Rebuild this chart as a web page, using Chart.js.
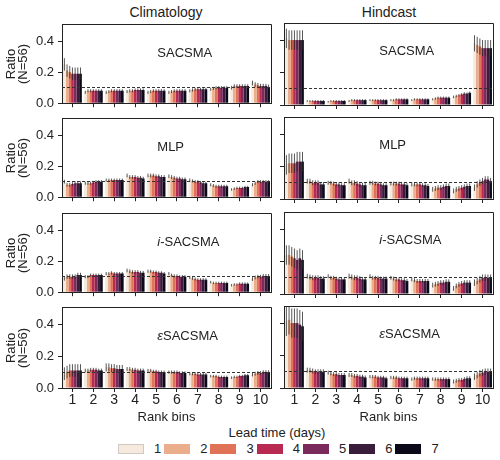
<!DOCTYPE html>
<html>
<head>
<meta charset="utf-8">
<script src="https://cdn.jsdelivr.net/npm/chart.js@4"></script>
<style>
body{margin:0;background:#fff;width:500px;height:460px;position:relative;overflow:hidden;font-family:'Liberation Sans',Arial,sans-serif;color:#222}
canvas{position:absolute}
.t{position:absolute;font-size:14px;transform:translate(-50%,-50%);white-space:nowrap}
#legend{position:absolute;left:118px;top:442px;height:14px;display:flex;align-items:center;font-size:13px;line-height:14px}
.sw{display:inline-block;width:26px;height:10px;margin-right:10px;box-sizing:border-box}
.lab{margin-right:3px}
</style>
</head>
<body>
<div class="t" style="left:166px;top:12px">Climatology</div>
<div class="t" style="left:389px;top:12px">Hindcast</div>
<div class="t" style="left:277px;top:432px;font-size:13px">Lead time (days)</div>
<div id="legend"></div>
<script>
// rank bins and lead times
const bins = ['1','2','3','4','5','6','7','8','9','10'];
const leads = ['1','2','3','4','5','6','7'];
const leadColors = ['#F6EADF','#EAAE8C','#E07258','#B82A52','#7B2A5C','#3A1D3B','#0B0818'];
const refRatio = 0.1;

// values: one row per rank bin, one entry per lead time
const climSacsma = [
  [0.25,0.21,0.20,0.19,0.19,0.19,0.19],
  [0.07,0.08,0.08,0.08,0.08,0.08,0.08],
  [0.07,0.075,0.08,0.08,0.08,0.08,0.08],
  [0.075,0.08,0.08,0.085,0.085,0.085,0.085],
  [0.07,0.075,0.08,0.08,0.08,0.08,0.08],
  [0.07,0.075,0.08,0.08,0.08,0.08,0.08],
  [0.08,0.085,0.09,0.09,0.09,0.09,0.09],
  [0.09,0.095,0.10,0.10,0.10,0.10,0.10],
  [0.10,0.11,0.11,0.11,0.11,0.11,0.11],
  [0.13,0.12,0.115,0.11,0.11,0.11,0.105]
];
const climSacsmaErr = [0.04,0.01,0.01,0.01,0.01,0.01,0.01,0.01,0.012,0.015];

const hindSacsma = [
  [0.41,0.40,0.40,0.40,0.40,0.40,0.40],
  [0.025,0.025,0.025,0.025,0.025,0.025,0.025],
  [0.02,0.025,0.025,0.025,0.025,0.025,0.025],
  [0.025,0.03,0.03,0.03,0.03,0.03,0.03],
  [0.03,0.03,0.03,0.03,0.03,0.03,0.03],
  [0.03,0.03,0.035,0.035,0.035,0.035,0.035],
  [0.03,0.035,0.035,0.035,0.035,0.035,0.035],
  [0.035,0.04,0.045,0.045,0.045,0.045,0.045],
  [0.05,0.055,0.06,0.065,0.07,0.07,0.075],
  [0.38,0.37,0.36,0.35,0.35,0.35,0.35]
];
const hindSacsmaErr = [0.06,0.005,0.005,0.006,0.006,0.006,0.006,0.007,0.008,0.05];

const climMlp = [
  [0.10,0.08,0.08,0.085,0.09,0.09,0.09],
  [0.09,0.09,0.09,0.095,0.10,0.10,0.10],
  [0.11,0.11,0.11,0.11,0.11,0.11,0.11],
  [0.14,0.13,0.13,0.13,0.125,0.125,0.12],
  [0.14,0.14,0.14,0.135,0.135,0.13,0.13],
  [0.135,0.13,0.125,0.12,0.12,0.115,0.115],
  [0.11,0.105,0.10,0.10,0.095,0.09,0.09],
  [0.08,0.075,0.07,0.07,0.07,0.07,0.07],
  [0.05,0.055,0.06,0.06,0.06,0.065,0.065],
  [0.08,0.09,0.10,0.10,0.10,0.10,0.10]
];
const climMlpErr = [0.012,0.01,0.01,0.012,0.012,0.012,0.01,0.01,0.008,0.01];

const hindMlp = [
  [0.21,0.22,0.22,0.22,0.23,0.23,0.23],
  [0.11,0.11,0.10,0.10,0.10,0.09,0.09],
  [0.10,0.10,0.095,0.09,0.09,0.085,0.085],
  [0.11,0.10,0.10,0.095,0.09,0.085,0.085],
  [0.10,0.10,0.095,0.095,0.09,0.085,0.085],
  [0.095,0.095,0.095,0.095,0.09,0.09,0.085],
  [0.09,0.09,0.09,0.09,0.085,0.085,0.08],
  [0.06,0.065,0.07,0.07,0.075,0.08,0.08],
  [0.05,0.06,0.065,0.07,0.075,0.08,0.08],
  [0.07,0.09,0.10,0.11,0.12,0.12,0.11]
];
const hindMlpErr = [0.06,0.015,0.012,0.015,0.012,0.012,0.012,0.015,0.015,0.02];

const climIsac = [
  [0.09,0.10,0.10,0.10,0.10,0.11,0.11],
  [0.10,0.10,0.11,0.11,0.11,0.11,0.11],
  [0.12,0.12,0.125,0.12,0.12,0.12,0.12],
  [0.14,0.135,0.13,0.13,0.13,0.125,0.125],
  [0.135,0.135,0.13,0.13,0.125,0.125,0.12],
  [0.12,0.11,0.105,0.105,0.10,0.10,0.10],
  [0.095,0.09,0.085,0.08,0.08,0.08,0.08],
  [0.065,0.06,0.06,0.06,0.06,0.06,0.06],
  [0.045,0.05,0.05,0.055,0.055,0.055,0.055],
  [0.085,0.095,0.10,0.10,0.105,0.105,0.105]
];
const climIsacErr = [0.015,0.01,0.01,0.012,0.01,0.01,0.01,0.008,0.008,0.012];

const hindIsac = [
  [0.24,0.24,0.23,0.22,0.21,0.22,0.21],
  [0.11,0.105,0.10,0.10,0.10,0.095,0.095],
  [0.11,0.10,0.10,0.095,0.09,0.09,0.09],
  [0.11,0.105,0.10,0.10,0.095,0.09,0.09],
  [0.11,0.10,0.10,0.10,0.095,0.095,0.095],
  [0.10,0.095,0.09,0.09,0.085,0.085,0.08],
  [0.09,0.085,0.08,0.08,0.08,0.08,0.08],
  [0.055,0.06,0.065,0.07,0.07,0.075,0.075],
  [0.035,0.05,0.06,0.065,0.07,0.07,0.07],
  [0.07,0.08,0.09,0.10,0.10,0.10,0.10]
];
const hindIsacErr = [0.06,0.015,0.012,0.015,0.012,0.012,0.012,0.015,0.015,0.02];

const climEsac = [
  [0.09,0.10,0.11,0.11,0.11,0.11,0.11],
  [0.11,0.11,0.115,0.115,0.115,0.11,0.11],
  [0.13,0.13,0.125,0.125,0.12,0.12,0.12],
  [0.12,0.12,0.115,0.115,0.11,0.11,0.11],
  [0.11,0.11,0.105,0.105,0.10,0.10,0.10],
  [0.10,0.10,0.10,0.10,0.095,0.095,0.095],
  [0.09,0.09,0.09,0.085,0.085,0.085,0.085],
  [0.075,0.075,0.075,0.07,0.07,0.07,0.07],
  [0.065,0.07,0.07,0.075,0.075,0.08,0.08],
  [0.085,0.09,0.095,0.095,0.10,0.10,0.10]
];
const climEsacErr = [0.04,0.012,0.025,0.012,0.01,0.01,0.01,0.008,0.008,0.012];

const hindEsac = [
  [0.41,0.42,0.40,0.40,0.40,0.39,0.38],
  [0.11,0.11,0.105,0.10,0.10,0.10,0.10],
  [0.095,0.09,0.085,0.085,0.08,0.08,0.08],
  [0.08,0.08,0.075,0.075,0.07,0.07,0.065],
  [0.07,0.07,0.07,0.065,0.065,0.065,0.06],
  [0.065,0.065,0.065,0.06,0.06,0.06,0.06],
  [0.055,0.06,0.06,0.06,0.06,0.06,0.06],
  [0.055,0.055,0.055,0.055,0.055,0.055,0.055],
  [0.04,0.045,0.05,0.05,0.055,0.06,0.06],
  [0.07,0.08,0.09,0.095,0.10,0.10,0.10]
];
const hindEsacErr = [0.09,0.015,0.012,0.012,0.01,0.01,0.01,0.01,0.012,0.02];

const panels = [
  {data: climSacsma, err: climSacsmaErr, name: [['SACSMA', false]], row: 0, col: 0},
  {data: hindSacsma, err: hindSacsmaErr, name: [['SACSMA', false]], row: 0, col: 1},
  {data: climMlp, err: climMlpErr, name: [['MLP', false]], row: 1, col: 0},
  {data: hindMlp, err: hindMlpErr, name: [['MLP', false]], row: 1, col: 1},
  {data: climIsac, err: climIsacErr, name: [['i', true], ['-SACSMA', false]], row: 2, col: 0},
  {data: hindIsac, err: hindIsacErr, name: [['i', true], ['-SACSMA', false]], row: 2, col: 1},
  {data: climEsac, err: climEsacErr, name: [['\u03b5', true], ['SACSMA', false]], row: 3, col: 0},
  {data: hindEsac, err: hindEsacErr, name: [['\u03b5', true], ['SACSMA', false]], row: 3, col: 1}
];

const FONT = "'Liberation Sans', Arial, sans-serif";
Chart.defaults.font.family = FONT;
Chart.defaults.color = '#222';

const panelTops = [23, 117, 212, 306];
const ink = '#222';

// error bars, reference line, top/right spines, panel name
const deco = {
  id: 'deco',
  afterDatasetsDraw(chart) {
    const {ctx, chartArea: ca, scales: {y}} = chart;
    const opt = chart.options.plugins.deco;
    ctx.save();
    ctx.beginPath();
    ctx.rect(ca.left, ca.top, ca.right - ca.left, ca.bottom - ca.top);
    ctx.clip();
    ctx.strokeStyle = 'rgba(35,35,35,0.85)';
    ctx.lineWidth = 0.9;
    chart.data.datasets.forEach((ds, i) => {
      chart.getDatasetMeta(i).data.forEach((bar, j) => {
        const v = ds.data[j], e = ds.errs[j];
        ctx.beginPath();
        ctx.moveTo(bar.x, y.getPixelForValue(v - e));
        ctx.lineTo(bar.x, y.getPixelForValue(v + e));
        ctx.stroke();
      });
    });
    const yr = Math.round(y.getPixelForValue(refRatio) - 0.5) + 0.5;
    ctx.setLineDash([3, 2]);
    ctx.strokeStyle = '#333';
    ctx.lineWidth = 1;
    ctx.beginPath();
    ctx.moveTo(ca.left, yr);
    ctx.lineTo(ca.right, yr);
    ctx.stroke();
    ctx.restore();

    ctx.save();
    ctx.strokeStyle = ink;
    ctx.lineWidth = 1;
    const t = Math.round(ca.top - 0.5) + 0.5, r = Math.round(ca.right - 0.5) + 0.5;
    ctx.beginPath();
    ctx.moveTo(ca.left, t);
    ctx.lineTo(r, t);
    ctx.lineTo(r, ca.bottom);
    ctx.stroke();

    let x = ca.left + 0.456 * (ca.right - ca.left);
    const ty = ca.top + 28.5;
    ctx.fillStyle = ink;
    ctx.textBaseline = 'middle';
    ctx.textAlign = 'left';
    opt.name.forEach(([txt, it]) => {
      ctx.font = (it ? 'italic ' : '') + '13px ' + FONT;
      ctx.fillText(txt, x, ty);
      x += ctx.measureText(txt).width;
    });
    ctx.restore();
  }
};

panels.forEach(p => {
  const left = p.col === 0;
  const last = p.row === 3;
  const w = left ? 272 : 228;
  const h = last ? 133 : 102;
  const cv = document.createElement('canvas');
  cv.width = w; cv.height = h;
  cv.style.left = (left ? 0 : 272) + 'px';
  cv.style.top = (panelTops[p.row] - 10) + 'px';
  cv.style.width = w + 'px'; cv.style.height = h + 'px';
  document.body.appendChild(cv);

  const gridOpt = {display: true, drawOnChartArea: false, offset: false, tickLength: 4, color: ink, tickColor: ink, lineWidth: 1};
  new Chart(cv, {
    type: 'bar',
    data: {
      labels: bins,
      datasets: leads.map((l, i) => ({
        label: l,
        data: p.data.map(b => b[i]),
        errs: p.err,
        backgroundColor: leadColors[i],
        borderWidth: 0,
        categoryPercentage: 0.9,
        barPercentage: 1.0
      }))
    },
    options: {
      responsive: false,
      animation: false,
      layout: {padding: {top: 10, right: left ? 1 : 7, bottom: 0, left: 0}},
      plugins: {legend: {display: false}, tooltip: {enabled: false}, deco: {name: p.name}},
      scales: {
        x: {
          type: 'category',
          offset: true,
          grid: gridOpt,
          border: {display: true, color: ink, width: 1},
          ticks: {display: last, padding: 0, font: {size: 14}, color: ink, maxRotation: 0, autoSkip: false},
          title: {display: last, text: 'Rank bins', font: {size: 13}, color: ink, padding: {top: 4, bottom: 4}},
          afterFit: s => { s.height = last ? 41 : 10; }
        },
        y: {
          min: 0, max: 0.505,
          grid: gridOpt,
          border: {display: true, color: ink, width: 1},
          ticks: {display: left, stepSize: 0.2, padding: 4, font: {size: 13}, color: ink, callback: v => v.toFixed(1)},
          afterBuildTicks: s => { s.ticks = s.ticks.filter(t => t.value < 0.45); },
          title: {display: left, text: ['Ratio', '(N=56)'], font: {size: 13, lineHeight: 0.95}, color: ink, padding: {top: 5, bottom: 0}},
          afterFit: s => { s.width = left ? 62 : 12; }
        }
      }
    },
    plugins: [deco]
  });
});

// lead-time legend
const lg = document.getElementById('legend');
leads.forEach((l, i) => {
  const sw = document.createElement('span');
  sw.className = 'sw';
  sw.style.background = leadColors[i];
  if (i === 0) sw.style.border = '1px solid #cfc8c4';
  const lb = document.createElement('span');
  lb.className = 'lab';
  lb.textContent = l;
  lg.appendChild(sw);
  lg.appendChild(lb);
});
</script>
</body>
</html>
